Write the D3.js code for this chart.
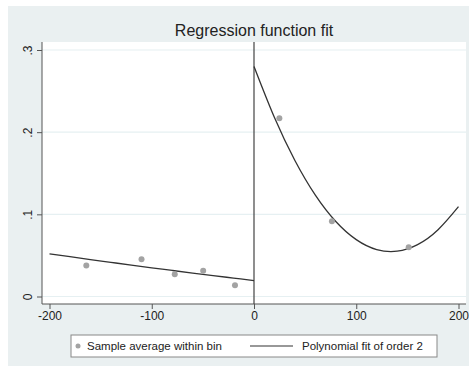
<!DOCTYPE html>
<html>
<head>
<meta charset="utf-8">
<script src="https://cdn.jsdelivr.net/npm/d3@7/dist/d3.min.js"></script>
<style>
  body { margin: 0; background: #fff; }
  text { font-family: "Liberation Sans", Arial, sans-serif; fill: #222; }
</style>
</head>
<body>
<div id="chart"></div>
<script>
// binned sample averages
var binX = [-164, -110, -77.5, -49.7, -18.6, 24.8, 76.2, 151.3];
var binY = [0.0377, 0.0453, 0.0271, 0.0312, 0.0137, 0.217, 0.0915, 0.060];

// fitted curve, left and right of the cutoff
var fitLeftX = [-200, -180, -160, -140, -120, -100, -80, -60, -40, -20, 0];
var fitLeftY = [0.052, 0.0485, 0.0450, 0.0416, 0.0382, 0.0349, 0.0317, 0.0285, 0.0254, 0.0224, 0.0194];
var fitRightX = [0, 20, 40, 60, 80, 100, 120, 140, 160, 180, 200];
var fitRightY = [0.280, 0.2178, 0.1656, 0.1234, 0.0913, 0.0692, 0.0571, 0.0551, 0.0631, 0.0812, 0.1093];

var xTicks = [-200, -100, 0, 100, 200];
var xTickLabels = ["-200", "-100", "0", "100", "200"];
var yTicks = [0, 0.1, 0.2, 0.3];
var yTickLabels = ["0", ".1", ".2", ".3"];
var legendLabels = ["Sample average within bin", "Polynomial fit of order 2"];

function draw() {
    var W = 469, H = 370;
    var svg = d3.select("#chart").append("svg")
        .attr("width", W)
        .attr("height", H);

    // outer panel
    svg.append("rect")
        .attr("x", 8).attr("y", 6)
        .attr("width", W - 8).attr("height", H - 10)
        .attr("fill", "#eaf0f1");

    var left = 42, right = 466, top = 42, bottom = 304;

    var x = d3.scaleLinear().domain([-200, 200]).range([49.5, 458.5]);
    var y = d3.scaleLinear().domain([0, 0.3]).range([296.5, 50]);

    // plot region
    svg.append("rect")
        .attr("x", left).attr("y", top)
        .attr("width", right - left).attr("height", bottom - top)
        .attr("fill", "#fff");

    // grid
    svg.append("g").selectAll("line")
        .data(yTicks)
        .enter()
        .append("line")
        .attr("x1", left).attr("x2", right)
        .attr("y1", function(d) { return y(d); })
        .attr("y2", function(d) { return y(d); })
        .attr("stroke", "#e6f0f2")
        .attr("stroke-width", 1.2);

    // axes
    var xAxis = svg.append("g")
        .attr("transform", "translate(0," + bottom + ")")
        .call(d3.axisBottom(x).tickValues(xTicks).tickSize(5).tickPadding(2)
            .tickFormat(function(d, i) { return xTickLabels[i]; }));
    xAxis.select(".domain").attr("d", "M" + left + ",0H" + right).attr("stroke", "#555");
    xAxis.selectAll(".tick line").attr("stroke", "#555");
    xAxis.selectAll("text").attr("font-size", 12).style("font-family", "Liberation Sans, Arial, sans-serif").attr("fill", "#222");

    var yAxis = svg.append("g")
        .attr("transform", "translate(" + left + ",0)")
        .call(d3.axisLeft(y).tickValues(yTicks).tickSize(5).tickFormat(function(d, i) { return yTickLabels[i]; }));
    yAxis.select(".domain").attr("d", "M0," + top + "V" + bottom).attr("stroke", "#555");
    yAxis.selectAll(".tick line").attr("stroke", "#555");
    yAxis.selectAll("text")
        .attr("font-size", 12)
        .style("font-family", "Liberation Sans, Arial, sans-serif")
        .attr("fill", "#222")
        .attr("x", null).attr("dy", null)
        .attr("text-anchor", "middle")
        .attr("transform", "translate(-10,0) rotate(-90)")
        .attr("y", 0);

    // cutoff line
    svg.append("line")
        .attr("x1", x(0)).attr("x2", x(0))
        .attr("y1", top).attr("y2", bottom)
        .attr("stroke", "#444").attr("stroke-width", 1.2);

    // fit lines
    var line = d3.line()
        .x(function(d) { return x(d[0]); })
        .y(function(d) { return y(d[1]); })
        .curve(d3.curveNatural);

    [[fitLeftX, fitLeftY], [fitRightX, fitRightY]].forEach(function(s) {
        svg.append("path")
            .datum(d3.zip(s[0], s[1]))
            .attr("d", line)
            .attr("fill", "none")
            .attr("stroke", "#333")
            .attr("stroke-width", 1.3);
    });

    // bin points
    svg.append("g").selectAll("circle")
        .data(d3.zip(binX, binY))
        .enter()
        .append("circle")
        .attr("cx", function(d) { return x(d[0]); })
        .attr("cy", function(d) { return y(d[1]); })
        .attr("r", 3)
        .attr("fill", "#a3a3a3");

    // title
    svg.append("text")
        .attr("x", 254).attr("y", 36)
        .attr("text-anchor", "middle")
        .attr("font-size", 16)
        .text("Regression function fit");

    // legend
    var lg = svg.append("g");
    lg.append("rect")
        .attr("x", 71).attr("y", 335)
        .attr("width", 366).attr("height", 22)
        .attr("fill", "#fff")
        .attr("stroke", "#888");
    lg.append("circle")
        .attr("cx", 78).attr("cy", 346)
        .attr("r", 2.5)
        .attr("fill", "#a3a3a3");
    lg.append("text")
        .attr("x", 87).attr("y", 350)
        .attr("font-size", 11.5)
        .text(legendLabels[0]);
    lg.append("line")
        .attr("x1", 250).attr("x2", 293)
        .attr("y1", 346).attr("y2", 346)
        .attr("stroke", "#333").attr("stroke-width", 1.2);
    lg.append("text")
        .attr("x", 302).attr("y", 350)
        .attr("font-size", 11.5)
        .text(legendLabels[1]);
}

document.body.onload = function() {
    draw();
};
</script>
</body>
</html>
